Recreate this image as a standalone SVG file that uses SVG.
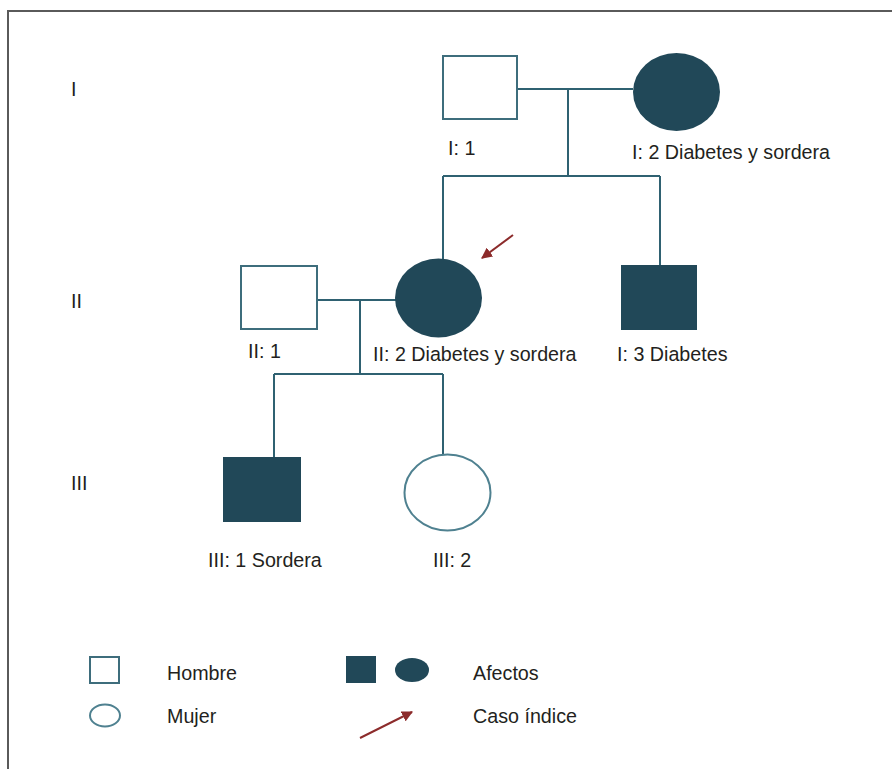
<svg xmlns="http://www.w3.org/2000/svg" width="892" height="769" viewBox="0 0 892 769">
<style>
  text { font-family: "Liberation Sans", Arial, sans-serif; font-size: 19.7px; fill: #231f20; }
  .open { fill: #ffffff; stroke: #3e6d7c; stroke-width: 2; }
  .openc { fill: #ffffff; stroke: #4f8190; stroke-width: 2; }
  .aff { fill: #214858; stroke: none; }
  .ln { stroke: #2f6171; stroke-width: 2; fill: none; }
  .arr { stroke: #8c2b2b; stroke-width: 2; fill: none; }
  .frame { stroke: #5a5a5a; stroke-width: 2; fill: none; }
</style>
<defs>
  <marker id="ah" viewBox="0 0 10 10" refX="9" refY="5" markerWidth="5.5" markerHeight="5.5" orient="auto" markerUnits="strokeWidth">
    <path d="M0,0 L10,5 L0,10 z" fill="#8c2b2b"/>
  </marker>
</defs>
<rect width="892" height="769" fill="#ffffff"/>
<path class="frame" d="M8,769 L8,11 L892,11"/>

<g id="generations">
  <text x="71" y="96">I</text>
  <text x="71" y="308">II</text>
  <text x="71" y="490">III</text>
</g>

<g id="connectors">
  <path class="ln" d="M513,89 L633,89"/>
  <path class="ln" d="M568,89 L568,176"/>
  <path class="ln" d="M443,176 L660,176"/>
  <path class="ln" d="M443,176 L443,259"/>
  <path class="ln" d="M660,176 L660,266"/>
  <path class="ln" d="M317,300 L396,300"/>
  <path class="ln" d="M360,300 L360,374"/>
  <path class="ln" d="M274,374 L443,374"/>
  <path class="ln" d="M274,374 L274,458"/>
  <path class="ln" d="M443,374 L443,455"/>
  <path class="arr" d="M513,235 L482,258" marker-end="url(#ah)"/>
</g>

<g id="I1">
  <rect class="open" x="443" y="56" width="74" height="63"/>
  <text x="448" y="155">I: 1</text>
</g>
<g id="I2">
  <ellipse class="aff" cx="676.5" cy="92" rx="43.5" ry="39"/>
  <text x="632" y="159">I: 2 Diabetes y sordera</text>
</g>
<g id="II1">
  <rect class="open" x="241" y="266" width="76" height="63"/>
  <text x="248" y="358">II: 1</text>
</g>
<g id="II2">
  <ellipse class="aff" cx="438.5" cy="298" rx="43.5" ry="39.5"/>
  <text x="373" y="361">II: 2 Diabetes y sordera</text>
</g>
<g id="II3">
  <rect class="aff" x="621" y="265" width="76" height="65"/>
  <text x="617" y="361">I: 3 Diabetes</text>
</g>
<g id="III1">
  <rect class="aff" x="223" y="457" width="78" height="65"/>
  <text x="208" y="567">III: 1 Sordera</text>
</g>
<g id="III2">
  <ellipse class="openc" cx="447.5" cy="492.5" rx="43" ry="38"/>
  <text x="433" y="567">III: 2</text>
</g>

<g id="legend">
  <rect class="open" x="90" y="657" width="29" height="26"/>
  <text x="167" y="680">Hombre</text>
  <ellipse class="openc" cx="105" cy="715.5" rx="15" ry="11"/>
  <text x="167" y="723">Mujer</text>
  <rect class="aff" x="346" y="656" width="30" height="27"/>
  <ellipse class="aff" cx="412" cy="670" rx="17" ry="12"/>
  <text x="473" y="680">Afectos</text>
  <path class="arr" d="M360,738 L412,712" marker-end="url(#ah)"/>
  <text x="473" y="723">Caso índice</text>
</g>
</svg>
